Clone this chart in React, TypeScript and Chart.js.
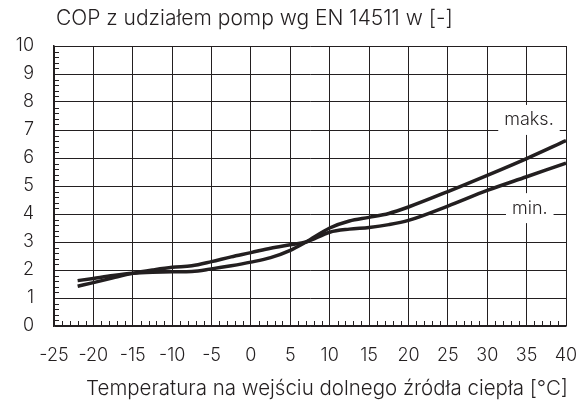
import React, { useEffect, useRef } from "react";
import { Chart, registerables } from "chart.js";

Chart.register(...registerables);

const temperatures = [-22, -20, -17.5, -15, -12.5, -10, -7.5, -5, -2.5, 0, 2.5, 5, 7, 10, 12.5, 15, 17.5, 20, 25, 30, 35, 40];
const copMin = [1.42, 1.55, 1.72, 1.88, 2.0, 2.1, 2.15, 2.3, 2.47, 2.62, 2.78, 2.9, 3.0, 3.35, 3.46, 3.52, 3.62, 3.77, 4.28, 4.84, 5.33, 5.82];
const copMaks = [1.62, 1.7, 1.8, 1.88, 1.92, 1.94, 1.95, 2.04, 2.15, 2.28, 2.44, 2.7, 3.0, 3.5, 3.75, 3.88, 4.02, 4.25, 4.8, 5.38, 5.98, 6.62];
const xTickLabels = ["-25", "-20", "-15", "-10", "-5", "0", "5", "10", "15", "20", "25", "30", "35", "40"];
const yTickLabels = ["0", "1", "2", "3", "4", "5", "6", "7", "8", "9", "10"];
const seriesNames = ["maks.", "min."];
const titleText = "COP z udziałem pomp wg EN 14511 w [-]";
const xTitleText = "Temperatura na wejściu dolnego źródła ciepła [°C]";

const INK = "#231f20";
const FONT = "Inter";

const overlayPlugin = {
  id: "overlay",
  beforeDatasetsDraw(chart: any) {
    const { ctx, chartArea, scales } = chart;
    const xs = scales.x;
    const ys = scales.y;
    ctx.save();
    ctx.strokeStyle = INK;
    ctx.lineWidth = 1;
    for (let v = -25; v <= 40; v += 1) {
      if (v % 5 === 0) continue;
      const px = Math.round(xs.getPixelForValue(v)) + 0.5;
      ctx.beginPath();
      ctx.moveTo(px, chartArea.bottom);
      ctx.lineTo(px, chartArea.bottom - 5);
      ctx.stroke();
    }
    for (let i = 0; i <= 50; i++) {
      if (i % 5 === 0) continue;
      const py = Math.round(ys.getPixelForValue(i * 0.2)) + 0.5;
      ctx.beginPath();
      ctx.moveTo(chartArea.left, py);
      ctx.lineTo(chartArea.left + 5, py);
      ctx.stroke();
    }
    const labels = [
      { text: seriesNames[0], x: 35.3, y: 7.36 },
      { text: seriesNames[1], x: 35.4, y: 4.21 },
    ];
    ctx.font = `300 18px ${FONT}`;
    ctx.textAlign = "center";
    ctx.textBaseline = "middle";
    for (const l of labels) {
      const cx = xs.getPixelForValue(l.x);
      const cy = ys.getPixelForValue(l.y);
      const w = ctx.measureText(l.text).width + 12;
      ctx.fillStyle = "#ffffff";
      ctx.fillRect(cx - w / 2, cy - 15, w, 30);
      ctx.fillStyle = INK;
      ctx.fillText(l.text, cx, cy);
    }
    ctx.restore();
  },
  afterDraw(chart: any) {
    const { ctx, chartArea } = chart;
    ctx.save();
    ctx.fillStyle = INK;
    ctx.textBaseline = "middle";
    ctx.textAlign = "left";
    ctx.font = `300 21px ${FONT}`;
    ctx.fillText(titleText, chartArea.left + 2, 19);
    ctx.textAlign = "right";
    ctx.font = `300 20.5px ${FONT}`;
    ctx.fillText(xTitleText, chartArea.right + 2, 389);
    ctx.restore();
  },
};

export default function App() {
  const ref = useRef<HTMLCanvasElement | null>(null);
  useEffect(() => {
    if (!ref.current) return;
    const chart = new Chart(ref.current, {
      type: "line",
      data: {
        datasets: [
          {
            label: seriesNames[0],
            data: temperatures.map((t, i) => ({ x: t, y: copMaks[i] })),
            borderColor: INK,
            borderWidth: 3.5,
            pointRadius: 0,
            cubicInterpolationMode: "monotone",
            fill: false,
          },
          {
            label: seriesNames[1],
            data: temperatures.map((t, i) => ({ x: t, y: copMin[i] })),
            borderColor: INK,
            borderWidth: 3.5,
            pointRadius: 0,
            cubicInterpolationMode: "monotone",
            fill: false,
          },
        ],
      },
      options: {
        responsive: false,
        animation: false,
        layout: { padding: { top: 46, right: 13, left: 0, bottom: 0 } },
        plugins: { legend: { display: false }, tooltip: { enabled: false }, title: { display: false } },
        scales: {
          x: {
            type: "linear",
            min: -25,
            max: 40,
            afterFit: (s: any) => {
              s.height = 80;
              s.paddingLeft = 0;
              s.paddingRight = 0;
            },
            afterBuildTicks: (s: any) => {
              s.ticks = xTickLabels.map((l) => ({ value: Number(l) }));
            },
            ticks: {
              stepSize: 5,
              color: INK,
              font: { family: FONT, size: 18, weight: "300" },
              padding: 19,
              maxRotation: 0,
              autoSkip: false,
              callback: (v: any) => String(v),
            },
            grid: { color: INK, lineWidth: 1, drawTicks: false },
            border: { color: INK, width: 1.5 },
          },
          y: {
            min: 0,
            max: 10,
            afterFit: (s: any) => {
              s.width = 54;
              s.paddingTop = 0;
              s.paddingBottom = 0;
            },
            afterBuildTicks: (s: any) => {
              s.ticks = yTickLabels.map((l) => ({ value: Number(l) }));
            },
            ticks: {
              stepSize: 1,
              color: INK,
              font: { family: FONT, size: 18, weight: "300" },
              padding: 20,
              autoSkip: false,
              callback: (v: any) => String(v),
            },
            grid: { color: INK, lineWidth: 1, drawTicks: false },
            border: { color: INK, width: 1.5 },
          },
        },
      },
      plugins: [overlayPlugin],
    });
    return () => chart.destroy();
  }, []);
  return (
    <div style={{ position: "absolute", left: 0, top: 0, width: 579, height: 406, background: "#fff" }}>
      <canvas ref={ref} width={579} height={406} style={{ display: "block" }} />
    </div>
  );
}
